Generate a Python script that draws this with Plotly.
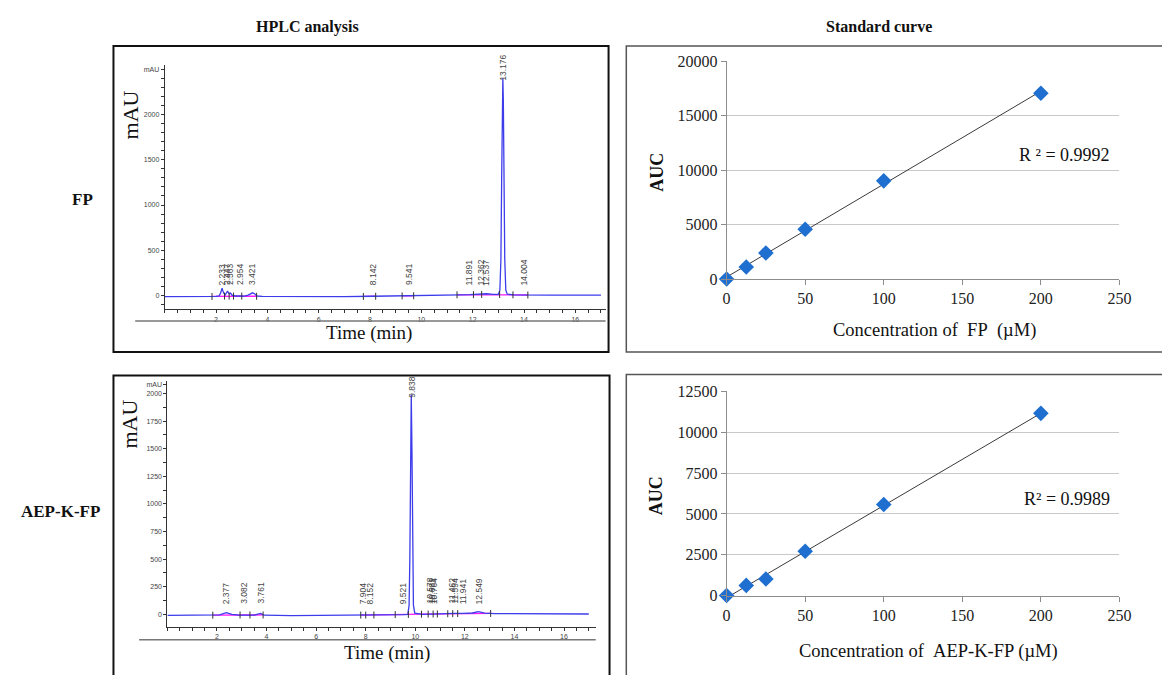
import numpy as np
import plotly.graph_objects as go

W, H = 1162, 675


def px(x):
    return x / W


def py(y):
    return 1 - y / H


# ---------------- HPLC chromatogram of FP ----------------
fp_time = [0.0, 1.0, 1.8, 2.0, 2.12, 2.18, 2.233, 2.29, 2.35, 2.40, 2.447, 2.50, 2.563, 2.62,
           2.75, 2.954, 3.10, 3.25, 3.35, 3.421, 3.50, 3.60, 3.80, 5.0, 7.0, 8.142, 9.0, 9.541,
           10.5, 11.5, 11.891, 12.2, 12.362, 12.537, 12.8, 13.0, 13.06, 13.10, 13.13, 13.155,
           13.176, 13.195, 13.22, 13.25, 13.29, 13.35, 13.6, 14.004, 15.0, 17.0]
fp_mau = [-12, -13, -12, -10, -5, 30, 80, 30, 5, 30, 50, 20, 28, 5,
          -5, -3, -6, 5, 25, 30, 20, -5, -10, -12, -12, -8, -6, -3,
          0, 8, 10, 15, 22, 20, 12, 12, 60, 400, 1300, 2150,
          2400, 2150, 1300, 400, 60, 15, 8, 6, 5, 5]
fp_peak_rt = [2.233, 2.447, 2.563, 2.954, 3.421, 8.142, 9.541, 11.891, 12.362, 12.537, 13.176, 14.004]
fp_peak_h = [80, 50, 28, -3, 30, -8, -3, 10, 22, 20, 2400, 6]
fp_base_t = [[1.84, 2.33, 2.51, 2.68, 3.00, 3.58], [7.74, 8.22], [9.25, 9.70],
             [11.39, 12.03, 12.35, 13.05, 13.57, 14.15]]
fp_base_y = [[-10, -6, -6, -6, -6, -8], [-10, -8], [-4, -2], [8, 10, 12, 12, 8, 6]]

# ---------------- HPLC chromatogram of AEP-K-FP ----------------
aep_time = [0.0, 1.8, 2.1, 2.377, 2.6, 2.9, 3.082, 3.5, 3.761, 3.9, 5.0, 7.0, 7.904, 8.152,
            9.0, 9.521, 9.70, 9.75, 9.78, 9.81, 9.838, 9.865, 9.895, 9.925, 9.98, 10.3,
            10.578, 10.681, 10.764, 11.2, 11.462, 11.594, 11.941, 12.3, 12.549, 12.8, 13.2,
            14.0, 17.0]
aep_mau = [-10, -10, -5, 15, 0, -8, -8, -8, 8, -8, -12, -10, -8, -8,
           -5, -3, 0, 80, 500, 1500, 1990, 1500, 500, 80, 10, 0,
           2, 3, 3, 5, 8, 8, 8, 12, 25, 10, 6,
           5, 3]
aep_peak_rt = [2.377, 3.082, 3.761, 7.904, 8.152, 9.521, 9.838, 10.578, 10.681, 10.764,
               11.462, 11.594, 11.941, 12.549]
aep_peak_h = [15, -8, 8, -8, -8, -3, 1990, 2, 3, 3, 8, 8, 8, 25]
aep_base_t = [[1.83, 2.93, 3.33, 3.86],
              [7.80, 8.00, 8.33, 9.19, 9.72, 10.25, 10.52, 10.72, 10.89, 11.31, 11.51, 11.71, 13.04]]
aep_base_y = [[-8, -6, -6, -6],
              [-7, -7, -6, -3, -1, 1, 2, 3, 3, 5, 6, 7, 8]]

# ---------------- Standard curves ----------------
conc = [0, 12.5, 25, 50, 100, 200]
auc_fp = [0, 1100, 2390, 4570, 9020, 17080]
auc_aep = [0, 620, 1015, 2710, 5575, 11160]
r2_fp = "R\u00a0\u00b2 = 0.9992"
r2_aep = "R\u00b2 = 0.9989"

hplc_x_ticks = [2, 4, 6, 8, 10, 12, 14, 16]
fp_y_ticks = [0, 500, 1000, 1500, 2000, 2500]
fp_y_text = ["0", "500", "1000", "1500", "2000", "mAU"]
aep_y_ticks = [0, 250, 500, 750, 1000, 1250, 1500, 1750, 2000, 2080]
aep_y_text = ["0", "250", "500", "750", "1000", "1250", "1500", "1750", "2000", "mAU"]

SERIF = "Liberation Serif"
SANS = "Liberation Sans"
BLUE_LINE = "rgb(60,60,235)"
MAGENTA = "#ff1aff"

fig = go.Figure()


def join_groups(groups):
    out = []
    for i, g in enumerate(groups):
        if i:
            out.append(None)
        out.extend(g)
    return out


def add_chrom(t, y, bt, by, xa, ya):
    fig.add_trace(go.Scatter(x=join_groups(bt), y=join_groups(by), mode="lines",
                             line=dict(color=MAGENTA, width=1.3), xaxis=xa, yaxis=ya,
                             hoverinfo="skip", showlegend=False))
    fig.add_trace(go.Scatter(x=t, y=y, mode="lines", line=dict(color=BLUE_LINE, width=1.3),
                             xaxis=xa, yaxis=ya, showlegend=False))
    flat_t = [v for g in bt for v in g]
    flat_y = [v for g in by for v in g]
    fig.add_trace(go.Scatter(x=flat_t, y=flat_y, mode="markers",
                             marker=dict(symbol="line-ns", size=5,
                                         line=dict(color="#333", width=1)),
                             xaxis=xa, yaxis=ya, hoverinfo="skip", showlegend=False))


add_chrom(fp_time, fp_mau, fp_base_t, fp_base_y, "x", "y")
add_chrom(aep_time, aep_mau, aep_base_t, aep_base_y, "x3", "y3")

annotations = []


def add_rt_labels(rts, hs, xr, yr, big_off, small_min):
    for rt, h in zip(rts, hs):
        if h > 1000:
            yv = h - big_off
        else:
            yv = max(h + 20, small_min)
        annotations.append(dict(x=rt, y=yv, xref=xr, yref=yr, text=f"{rt:.3f}",
                                textangle=-90, showarrow=False, xanchor="center",
                                yanchor="bottom", borderpad=0,
                                font=dict(family=SANS, size=8.5, color="#444")))


add_rt_labels(fp_peak_rt, fp_peak_h, "x", "y", 40, 100)
add_rt_labels(aep_peak_rt, aep_peak_h, "x3", "y3", 35, 85)

# standard curves
for xa, ya, auc in (("x2", "y2", auc_fp), ("x4", "y4", auc_aep)):
    slope, icpt = np.polyfit(conc, auc, 1)
    xs = [min(conc), max(conc)]
    fig.add_trace(go.Scatter(x=xs, y=[slope * v + icpt for v in xs], mode="lines",
                             line=dict(color="#3a3a3a", width=1), xaxis=xa, yaxis=ya,
                             showlegend=False))
    fig.add_trace(go.Scatter(x=conc, y=auc, mode="markers",
                             marker=dict(symbol="diamond", size=12, color="#1f6fd0"),
                             xaxis=xa, yaxis=ya, cliponaxis=False, showlegend=False))

hplc_tick = dict(family=SANS, size=7, color="#444")
sc_tick = dict(family=SERIF, size=16, color="#222")


def hplc_x(domain, rng, anchor):
    return dict(domain=domain, range=rng, anchor=anchor, showline=True, linecolor="#333",
                linewidth=1, ticks="outside", ticklen=3, tickcolor="#333", tickwidth=1,
                tickmode="array", tickvals=hplc_x_ticks, tickfont=hplc_tick,
                minor=dict(tickmode="linear", tick0=0, dtick=0.5, ticks="outside",
                           ticklen=3, tickcolor="#333", showgrid=False),
                showgrid=False, zeroline=False)


def hplc_y(domain, rng, anchor, vals, text, mdt):
    return dict(domain=domain, range=rng, anchor=anchor, showline=True, linecolor="#333",
                linewidth=1, ticks="outside", ticklen=3, tickcolor="#333",
                tickmode="array", tickvals=vals, ticktext=text, tickfont=hplc_tick,
                minor=dict(tickmode="linear", tick0=0, dtick=mdt, ticks="outside",
                           ticklen=3, tickcolor="#333", showgrid=False),
                showgrid=False, zeroline=False)


def sc_x(domain, anchor):
    return dict(domain=domain, range=[0, 250], anchor=anchor, dtick=50, tick0=0,
                tickformat="d",
                showline=True, linecolor="#8c8c8c", linewidth=1, ticks="outside",
                ticklen=5, tickcolor="#8c8c8c", tickfont=sc_tick, showgrid=False,
                zeroline=False)


def sc_y(domain, anchor, top, dt):
    return dict(domain=domain, range=[0, top * 1.0005], anchor=anchor, dtick=dt, tick0=0,
                tickformat="d",
                showline=True, linecolor="#8c8c8c", linewidth=1, ticks="outside",
                ticklen=5, tickcolor="#8c8c8c", tickfont=sc_tick, showgrid=True,
                gridcolor="#c8c8c8", gridwidth=1, zeroline=False)


fig.update_layout(
    xaxis=hplc_x([px(163), px(610)], [0, 17.18], "y"),
    yaxis=hplc_y([py(309), py(58)], [-151, 2552], "x", fp_y_ticks, fp_y_text, 100),
    xaxis3=hplc_x([px(165.7), px(600)], [0, 17.28], "y3"),
    yaxis3=hplc_y([py(635), py(383)], [-115, 2111], "x3", aep_y_ticks, aep_y_text, 125),
    xaxis2=sc_x([px(732.7), px(1131)], "y2"),
    yaxis2=sc_y([py(278), py(54.7)], "x2", 20000, 5000),
    xaxis4=sc_x([px(732.7), px(1131)], "y4"),
    yaxis4=sc_y([py(602.7), py(393.3)], "x4", 12500, 2500),
)


def txt(x, y, s, size, bold=False, angle=0, family=SERIF, color="#111"):
    annotations.append(dict(x=px(x), y=py(y), xref="paper", yref="paper",
                            text=f"<b>{s}</b>" if bold else s, showarrow=False,
                            textangle=angle, xanchor="center", yanchor="middle",
                            font=dict(family=family, size=size, color=color)))


nb = "\u00a0"
txt(307.5, 19, "HPLC analysis", 16, bold=True)
txt(887.5, 19, "Standard curve", 16, bold=True)
txt(80, 196, "FP", 17, bold=True)
txt(57, 516, "AEP-K-FP", 17, bold=True)
txt(128, 110, "mAU", 22, angle=-90)
txt(127, 427, "mAU", 22, angle=-90)
txt(370, 333, "Time (min)", 19)
txt(388, 662, "Time (min)", 19)
txt(662, 168, "AUC", 18, bold=True, angle=-90)
txt(662, 500, "AUC", 18, bold=True, angle=-90)
txt(943, 331, f"Concentration of{nb}{nb}FP{nb}{nb}(µM)", 18.5)
txt(937, 660, f"Concentration of{nb}{nb}AEP-K-FP (µM)", 18.5)
txt(1075, 151, r2_fp, 18)
txt(1078, 504, r2_aep, 18)

shapes = [
    dict(type="rect", xref="paper", yref="paper", x0=px(111), x1=px(613), y0=py(353), y1=py(39),
         line=dict(color="#111", width=2)),
    dict(type="rect", xref="paper", yref="paper", x0=px(111), x1=px(614), y0=-0.1, y1=py(377),
         line=dict(color="#111", width=2)),
    dict(type="rect", xref="paper", yref="paper", x0=px(631), x1=1.05, y0=py(353), y1=py(39),
         line=dict(color="#555", width=1.5)),
    dict(type="rect", xref="paper", yref="paper", x0=px(631), x1=1.05, y0=-0.1, y1=py(376),
         line=dict(color="#555", width=1.5)),
    dict(type="line", xref="paper", yref="paper", x0=px(133), x1=px(610), y0=py(321), y1=py(321),
         line=dict(color="#777", width=1.5)),
    dict(type="line", xref="paper", yref="paper", x0=px(137), x1=px(600), y0=py(648), y1=py(648),
         line=dict(color="#777", width=1.5)),
]

fig.update_layout(width=W, height=H, margin=dict(l=0, r=0, t=0, b=0),
                  paper_bgcolor="white", plot_bgcolor="white", showlegend=False,
                  annotations=annotations, shapes=shapes)

fig.write_html("out.html")
